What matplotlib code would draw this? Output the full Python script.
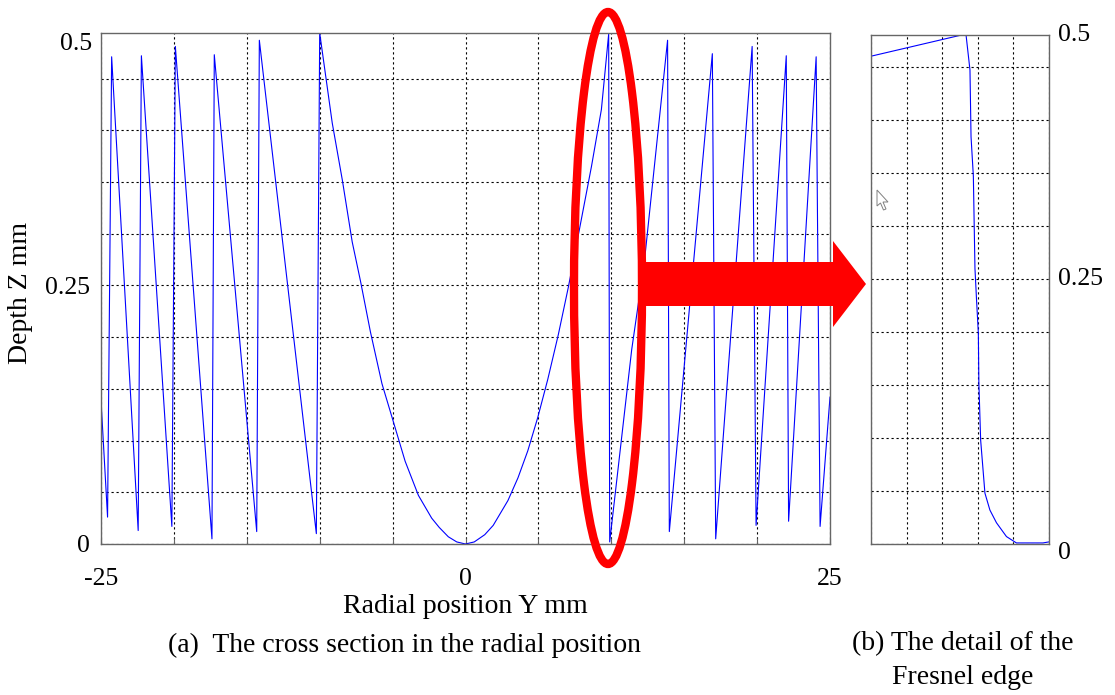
import numpy as np
import matplotlib
matplotlib.use('Agg')
import matplotlib.pyplot as plt
from matplotlib.patches import Ellipse, Polygon

plt.rcParams['font.family'] = ['Liberation Serif', 'DejaVu Serif']
FS_TICK = 18.5
FS_LABEL = 20

# Cross section of the Fresnel lens (radial position Y mm, depth Z mm)
profile_y = [-25, -24.55, -24.27, -22.45, -22.23, -20.14, -19.9, -17.39, -17.23,
             -14.32, -14.14, -10.23, -10.0,
             -9.14, -8.45, -7.77, -7.2, -6.52, -5.73, -5.05, -4.14, -3.23, -2.32,
             -1.8, -1.18, -0.6, 0.0, 0.6, 1.32, 1.9, 2.91, 3.6, 4.27, 4.95, 5.64,
             6.36, 7.05, 7.73, 8.64, 9.32, 9.82,
             9.89, 11.4, 12.27, 13.86, 13.98, 16.93, 17.16, 19.66, 19.93, 22.0,
             22.16, 24.05, 24.32, 25]
profile_z = [0.139, 0.026, 0.471, 0.013, 0.472, 0.017, 0.481, 0.005, 0.473,
             0.012, 0.487, 0.010, 0.494,
             0.407, 0.352, 0.292, 0.254, 0.205, 0.155, 0.123, 0.080, 0.047, 0.025,
             0.016, 0.007, 0.002, 0.0, 0.002, 0.009, 0.018, 0.042, 0.064, 0.090,
             0.122, 0.159, 0.202, 0.248, 0.298, 0.365, 0.420, 0.493,
             0.002, 0.188, 0.273, 0.487, 0.012, 0.474, 0.005, 0.481, 0.018, 0.472,
             0.022, 0.471, 0.017, 0.142]

# Detail of the Fresnel edge (relative position across the zoom window)
detail_y = [0.0, 0.509, 0.534, 0.556, 0.562, 0.575, 0.584, 0.593, 0.603, 0.606,
            0.616, 0.640, 0.668, 0.705, 0.761, 0.817, 0.966, 1.0]
detail_z = [0.460, 0.48, 0.48, 0.447, 0.384, 0.347, 0.260, 0.230, 0.199, 0.152,
            0.098, 0.048, 0.032, 0.020, 0.007, 0.001, 0.001, 0.002]

W, H = 1115, 695
fig = plt.figure(figsize=(W / 100, H / 100), dpi=100)

def style(ax):
    for s in ax.spines.values():
        s.set_color('#666666')
        s.set_linewidth(1.0)
    ax.grid(True, color='black', linestyle=(0, (2, 2.5)), linewidth=0.8)
    ax.tick_params(direction='in', length=4, width=0.8, color='#666666',
                   labelsize=FS_TICK)

# (a) full cross section
ax = fig.add_axes([101 / W, 1 - 544 / H, 729 / W, 511 / H])
ax.plot(profile_y, profile_z, color='#0000ff', linewidth=0.8)
ax.set_xlim(-25, 25)
ax.set_ylim(0, 0.494)
ax.set_xticks(np.arange(-25, 26, 5))
ax.set_xticklabels(['-25', '', '', '', '', '0', '', '', '', '', '25'])
ax.set_yticks(np.arange(0, 0.46, 0.05))
ax.set_yticklabels(['0', '', '', '', '', '0.25', '', '', '', ''])
style(ax)
ax.tick_params(axis='x', pad=17)
ax.tick_params(axis='y', length=0, pad=8)
ax.text(-0.012, 1.0, '0.5', transform=ax.transAxes, ha='right', va='top',
        fontsize=FS_TICK)
ax.set_xlabel('Radial position Y mm', fontsize=FS_LABEL, labelpad=3)
ax.set_ylabel('Depth Z mm', fontsize=FS_LABEL)
ax.yaxis.set_label_coords(-0.093, 0.491)

# (b) detail of the edge
ax2 = fig.add_axes([871 / W, 1 - 544 / H, 178 / W, 509 / H])
ax2.plot(detail_y, detail_z, color='#0000ff', linewidth=0.8)
ax2.set_xlim(0, 1)
ax2.set_ylim(0, 0.48)
ax2.set_xticks(np.arange(0, 1.01, 0.2))
ax2.set_xticklabels([])
ax2.set_yticks(np.arange(0, 0.46, 0.05))
ax2.set_yticklabels([])
style(ax2)
ax2.tick_params(axis='both', length=0)
ax2.text(1.05, 1.0, '0.5', transform=ax2.transAxes, ha='left', va='center',
         fontsize=FS_TICK)
ax2.text(1.05, 0.25 / 0.48, '0.25', transform=ax2.transAxes, ha='left',
         va='center', fontsize=FS_TICK)
ax2.text(1.05, -0.017, '0', transform=ax2.transAxes, ha='left', va='center',
         fontsize=FS_TICK)

# captions
fig.text(405 / W, 1 - 645 / H, '(a)  The cross section in the radial position',
         ha='center', va='center', fontsize=FS_LABEL)
fig.text(963 / W, 1 - 644 / H, '(b) The detail of the', ha='center', va='center',
         fontsize=FS_LABEL)
fig.text(963 / W, 1 - 678 / H, 'Fresnel edge', ha='center', va='center',
         fontsize=FS_LABEL)

# overlay: red ellipse, arrow and mouse pointer (pixel coordinates)
ov = fig.add_axes([0, 0, 1, 1])
ov.set_xlim(0, W)
ov.set_ylim(H, 0)
ov.axis('off')
ov.patch.set_alpha(0)
ov.add_patch(Ellipse((608, 288), 68, 552, fill=False, edgecolor='#ff0000',
                     linewidth=6.0))
arrow = [(643, 262), (833, 262), (833, 241), (866, 284), (833, 327),
         (833, 306), (643, 306)]
ov.add_patch(Polygon(arrow, closed=True, facecolor='#ff0000', edgecolor='none'))
cursor = [(877, 190), (877, 206), (880.5, 203), (883.5, 210), (886, 209),
          (883, 202), (888, 202)]
ov.add_patch(Polygon(cursor, closed=True, facecolor='white', edgecolor='#808080',
                     linewidth=0.7))

fig.savefig('out.png', dpi=100)
